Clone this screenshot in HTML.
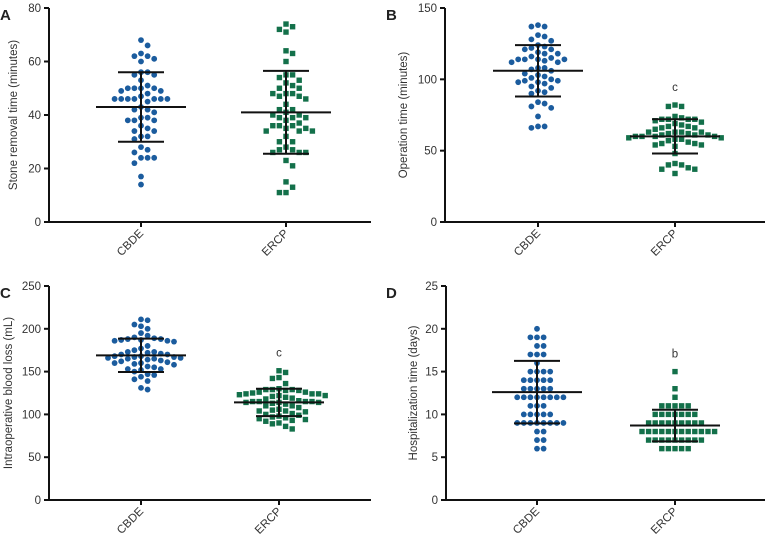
<!DOCTYPE html>
<html><head><meta charset="utf-8"><style>
body{margin:0;background:#fff}
svg{display:block;font-family:"Liberation Sans",sans-serif}
</style></head><body>
<svg id="chart" width="771" height="536"></svg>
<script>
const categories=["CBDE","ERCP"];
const aCBDE=[68,66,63,62,62,61,60,56,56,55,55,53,51,50,50,50,50,49,49,48,47,46,46,46,46,46,46,46,45,43,42,42,41,39,39,38,38,38,36,35,34,34,32,32,31,28,27,26,24,24,24,22,17,14];
const aERCP=[74,73,72,71,64,63,60,55,55,54,53,52,51,50,50,48,48,48,47,47,46,44,42,42,41,40,40,39,39,39,38,37,36,36,36,35,35,34,34,34,32,30,30,28,27,27,26,26,26,23,21,15,13,11,11];
const bCBDE=[138,137,137,131,130,128,127,124,123,122,121,121,119,118,118,116,115,114,114,114,114,113,112,112,108,108,107,106,104,103,102,101,100,99,99,98,98,97,95,94,92,91,90,84,83,81,80,74,67,66,67];
const bERCP=[82,81,81,74,73,72,72,72,72,71,70,69,68,67,67,66,66,65,63,63,63,63,62,62,61,61,61,60,60,60,60,59,59,58,58,57,56,55,55,54,54,53,48,41,40,40,38,37,37,34];
const cCBDE=[211,210,205,203,200,195,192,190,189,188,188,187,187,186,186,185,180,177,175,173,173,172,171,170,170,168,168,167,167,166,166,165,165,164,163,162,161,160,160,159,158,156,155,153,153,152,150,147,146,144,141,139,131,129];
const cERCP=[151,149,143,142,136,130,129,129,129,128,128,126,126,125,124,124,124,123,122,122,121,120,119,118,116,115,115,115,115,114,114,114,113,112,110,110,108,106,105,104,104,103,101,100,99,98,97,96,95,94,93,92,90,89,86,83];
const dCBDE=[20,19,19,19,18,18,17,17,17,16,15,15,15,15,14,14,14,14,14,13,13,13,13,13,12,12,12,12,12,12,12,12,11,11,11,10,10,10,10,10,9,9,9,9,9,9,9,9,8,8,7,7,6,6];
const dERCP=[15,13,12,11,11,11,11,11,10,10,10,10,10,10,10,9,9,9,9,9,9,9,9,9,8,8,8,8,8,8,8,8,8,8,8,8,7,7,7,7,7,7,7,7,7,6,6,6,6,6];
const means=[[43,41],[106,60],[169,114],[12.6,8.7]];
const sds=[[13,15.5],[18,12],[19.5,16],[3.65,1.85]];
const yMaxes=[80,150,250,25];
const yTicks=[[0,20,40,60,80],[0,50,100,150],[0,50,100,150,200,250],[0,5,10,15,20,25]];
const titles=["Stone removal time (minutes)","Operation time (minutes)","Intraoperative blood loss (mL)","Hospitalization time (days)"];
const letters=["A","B","C","D"];
const sig=[null,"c","c","b"];
const series=[[aCBDE,aERCP],[bCBDE,bERCP],[cCBDE,cERCP],[dCBDE,dERCP]];
const panels=[
 {ax:49,top:8,bot:222,xe:371,cx:[141,286],tx:13,lx:0},
 {ax:445,top:8,bot:222,xe:765,cx:[538,675],tx:403,lx:386},
 {ax:49,top:286,bot:500,xe:371,cx:[141,279],tx:8,lx:0},
 {ax:446,top:286,bot:500,xe:765,cx:[537,675],tx:413,lx:386}];
const colors=["#1b5c9e","#13704a"];
const NS="http://www.w3.org/2000/svg";
const svg=document.getElementById('chart');
function mk(t,a,p){const e=document.createElementNS(NS,t);for(const k in a)e.setAttribute(k,a[k]);(p||svg).appendChild(e);return e;}
panels.forEach((P,i)=>{
 const g=mk('g',{});
 
 
 const y=v=>P.bot-(v/yMaxes[i])*(P.bot-P.top);
 const L=mk('text',{x:P.lx,y:P.top+12,'font-size':15,'font-weight':'bold',fill:'#222'},g);L.textContent=letters[i];
 
 
 const ax=mk('path',{d:`M${P.ax},${P.top}V${P.bot}H${P.xe}`,stroke:'#111','stroke-width':2,fill:'none'},g);
 
 
 yTicks[i].forEach(t=>{
  mk('line',{x1:P.ax-5,x2:P.ax,y1:y(t),y2:y(t),stroke:'#111','stroke-width':2},g);
  const tx=mk('text',{x:P.ax-8,y:y(t)+4,'font-size':11.5,fill:'#333','text-anchor':'end'},g);tx.textContent=t;
  
  
 });
 const yt=mk('text',{x:P.tx,y:(P.top+P.bot)/2,'font-size':11.5,fill:'#333','text-anchor':'middle',transform:`rotate(-90 ${P.tx} ${(P.top+P.bot)/2})`,dy:4},g);
 yt.textContent=titles[i];
 
 
 categories.forEach((c,j)=>{
  const cx=P.cx[j];
  mk('line',{x1:cx,x2:cx,y1:P.bot,y2:P.bot+5,stroke:'#111','stroke-width':2},g);
  const ct=mk('text',{x:cx+3,y:P.bot+12,'font-size':11.5,fill:'#333','text-anchor':'end',transform:`rotate(-45 ${cx+3} ${P.bot+12})`},g);
  ct.textContent=c;
  
  
  const placed=[];const vals=series[i][j].slice().sort((a,b)=>b-a);
  vals.forEach(v=>{
   const py=y(v);let k=0,ox=0;
   while(true){ox=(k%2?1:-1)*Math.ceil(k/2)*6.6;if(k===0)ox=0;
    if(!placed.some(p=>Math.hypot(p[0]-ox,p[1]-py)<6.2))break;k++;}
   placed.push([ox,py]);
   let m;
   if(j===0)m=mk('circle',{cx:cx+ox,cy:py,r:2.9,fill:colors[0]},g);
   else m=mk('rect',{x:cx+ox-2.7,y:py-2.7,width:5.4,height:5.4,fill:colors[1]},g);
   
   
  });
  const mu=means[i][j],sd=sds[i][j];
  const eb=mk('path',{d:`M${cx-45},${y(mu)}H${cx+45}M${cx-23},${y(mu+sd)}H${cx+23}M${cx-23},${y(mu-sd)}H${cx+23}M${cx},${y(mu+sd)}V${y(mu-sd)}`,stroke:'#111','stroke-width':2,fill:'none'},g);
  
  
 });
 if(sig[i]){const s=mk('text',{x:P.cx[1],y:y(Math.max(...series[i][1]))-14,'font-size':11.5,fill:'#333','text-anchor':'middle'},g);s.textContent=sig[i];
  
  }
});
</script>
</body></html>
